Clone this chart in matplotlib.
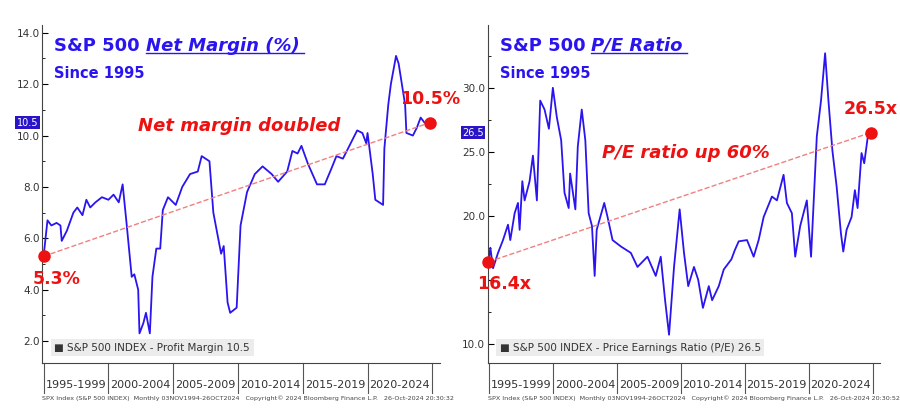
import matplotlib.pyplot as plt

BLUE = "#2a14f0"
RED = "#ee1111"

# Net margin (%)
nm_years = [1995.0, 1995.3, 1995.6, 1996.0, 1996.3, 1996.4, 1996.8, 1997.3, 1997.6, 1998.0, 1998.3, 1998.6,
            1999.0, 1999.5, 2000.0, 2000.4, 2000.8, 2001.1, 2001.4, 2001.8, 2002.0, 2002.3, 2002.4, 2002.7,
            2002.9, 2003.2, 2003.4, 2003.7, 2004.0, 2004.2, 2004.6, 2005.2, 2005.7, 2006.3, 2006.9, 2007.2,
            2007.8, 2008.1, 2008.7, 2008.9, 2009.2, 2009.4, 2009.9, 2010.2, 2010.7, 2011.3, 2011.9, 2012.6,
            2013.1, 2013.8, 2014.2, 2014.6, 2014.9, 2015.4, 2016.1, 2016.7, 2017.2, 2017.6, 2018.1, 2018.6,
            2019.2, 2019.6, 2019.9, 2020.0, 2020.4, 2020.6, 2021.2, 2021.3, 2021.6, 2021.8, 2022.2, 2022.4,
            2022.9, 2023.0, 2023.5, 2023.8, 2024.1, 2024.4, 2024.8]
nm_values = [5.3, 6.7, 6.5, 6.6, 6.5, 5.9, 6.3, 7.0, 7.2, 6.9, 7.5, 7.2,
             7.4, 7.6, 7.5, 7.7, 7.4, 8.1, 6.6, 4.5, 4.6, 4.0, 2.3, 2.7,
             3.1, 2.3, 4.5, 5.6, 5.6, 7.1, 7.6, 7.3, 8.0, 8.5, 8.6, 9.2,
             9.0, 7.0, 5.4, 5.7, 3.5, 3.1, 3.3, 6.5, 7.8, 8.5, 8.8, 8.5,
             8.2, 8.6, 9.4, 9.3, 9.6, 8.9, 8.1, 8.1, 8.7, 9.2, 9.1, 9.6,
             10.2, 10.1, 9.7, 10.1, 8.5, 7.5, 7.3, 9.5, 11.2, 12.0, 13.1, 12.8,
             11.2, 10.1, 10.0, 10.3, 10.7, 10.5, 10.5]

# P/E ratio
pe_years = [1994.95, 1995.10, 1995.31, 1995.70, 1996.09, 1996.48, 1996.66, 1997.00, 1997.26, 1997.39, 1997.60,
            1997.78, 1998.17, 1998.43, 1998.74, 1999.00, 1999.34, 1999.68, 1999.99, 2000.30, 2000.64, 2000.90,
            2001.23, 2001.34, 2001.75, 2001.94, 2002.25, 2002.53, 2002.79, 2003.05, 2003.26, 2003.42, 2004.01,
            2004.27, 2004.66, 2005.31, 2006.09, 2006.61, 2007.39, 2008.04, 2008.43, 2008.77, 2009.08, 2009.47,
            2009.91, 2010.25, 2010.58, 2011.03, 2011.36, 2011.73, 2012.19, 2012.45, 2012.97, 2013.36, 2013.96,
            2014.22, 2014.53, 2015.18, 2015.70, 2016.09, 2016.48, 2017.13, 2017.52, 2018.04, 2018.30, 2018.69,
            2018.95, 2019.34, 2019.86, 2020.19, 2020.64, 2020.97, 2021.29, 2021.55, 2021.86, 2022.19, 2022.53,
            2022.71, 2022.97, 2023.36, 2023.62, 2023.83, 2024.14, 2024.35, 2024.66, 2024.87]
pe_values = [16.4, 17.5, 15.9, 17.1, 18.1, 19.3, 18.1, 20.2, 21.0, 18.9, 22.7,
             21.2, 22.7, 24.7, 21.2, 29.0, 28.3, 26.8, 30.0, 27.7, 25.9, 21.8,
             20.6, 23.3, 20.5, 25.4, 28.3, 25.9, 20.2, 19.2, 15.3, 18.9, 21.0,
             19.9, 18.1, 17.6, 17.1, 16.0, 16.8, 15.3, 16.8, 13.4, 10.7, 16.0,
             20.5, 17.1, 14.5, 16.0, 15.0, 12.8, 14.5, 13.4, 14.5, 15.8, 16.6,
             17.3, 18.0, 18.1, 16.8, 18.1, 19.9, 21.5, 21.2, 23.2, 21.0, 20.2,
             16.8, 19.2, 21.2, 16.8, 26.2, 29.0, 32.7, 29.0, 25.1, 22.3, 18.6,
             17.2, 18.9, 19.9, 22.0, 20.6, 24.9, 24.1, 26.4, 26.5]

period_labels = ["1995-1999", "2000-2004", "2005-2009", "2010-2014", "2015-2019", "2020-2024"]
period_edges = [1995, 2000, 2005, 2010, 2015, 2020, 2025]


def panel(fig, rect, years, values, ylim, yticks, ylabels, minor, title_a, title_b,
          note, note_xy, start_lbl, end_lbl, legend, footer, tagval):
    ax = fig.add_axes(rect)
    ax.plot(years, values, color=BLUE, lw=1.3)
    ax.plot([years[0], years[-1]], [values[0], values[-1]], color="#f08080", lw=1, ls="--")
    ax.plot([years[0], years[-1]], [values[0], values[-1]], "o", color=RED, ms=8, clip_on=False, zorder=5)
    ax.set_xlim(1994.9, 2025.6)
    ax.set_ylim(*ylim)
    ax.set_yticks(yticks)
    ax.set_yticklabels(ylabels, fontsize=7.5, color="#333333")
    ax.set_yticks(minor, minor=True)
    ax.tick_params(axis="y", direction="in", length=4, pad=2)
    ax.tick_params(axis="y", which="minor", direction="in", length=2)
    ax.set_xticks([])
    for s in ["top", "right"]:
        ax.spines[s].set_visible(False)
    ax.spines["left"].set_color("#444444")
    ax.spines["bottom"].set_color("#444444")
    # period ticks below the axis
    for e in period_edges:
        ax.plot([e, e], [0, -0.09], transform=ax.get_xaxis_transform(), color="#555555", lw=0.8, clip_on=False)
    for lbl, a, b in zip(period_labels, period_edges[:-1], period_edges[1:]):
        ax.text((a + b) / 2, -0.065, lbl, transform=ax.get_xaxis_transform(), ha="center", va="center",
                fontsize=8, color="#333333")
    ax.text(0.0, -0.105, footer, transform=ax.transAxes, fontsize=4.6, color="#444444", va="center", ha="left")
    # value tag on y axis
    ax.annotate(tagval, xy=(0, values[-1]), xycoords=("axes fraction", "data"), xytext=(-3, 0),
                textcoords="offset points", ha="right", va="center", fontsize=7, color="white",
                bbox=dict(boxstyle="square,pad=0.15", fc="#2a14c8", ec="none"), annotation_clip=False)
    # legend
    ax.text(0.03, 0.045, "\u25A0 " + legend, transform=ax.transAxes, fontsize=7.5, color="#333333",
            va="center", bbox=dict(boxstyle="square,pad=0.35", fc="#ececec", ec="none"))
    # title
    t1 = ax.text(0.03, 0.965, title_a, transform=ax.transAxes, fontsize=13, fontweight="bold", color=BLUE,
                 va="top")
    fig.canvas.draw()
    r = fig.canvas.get_renderer()
    bb = t1.get_window_extent(r).transformed(ax.transAxes.inverted())
    t2 = ax.text(bb.x1, 0.965, title_b, transform=ax.transAxes, fontsize=13, fontweight="bold",
                 style="italic", color=BLUE, va="top")
    fig.canvas.draw()
    bb2 = t2.get_window_extent(r).transformed(ax.transAxes.inverted())
    ax.plot([bb2.x0, bb2.x1 + 0.01], [bb2.y0 + 0.005, bb2.y0 + 0.005], transform=ax.transAxes, color=BLUE,
            lw=1, clip_on=False)
    ax.text(0.03, 0.88, "Since 1995", transform=ax.transAxes, fontsize=10.5, fontweight="bold", color=BLUE,
            va="top")
    ax.text(note_xy[0], note_xy[1], note, transform=ax.transAxes, fontsize=13, fontweight="bold",
            style="italic", color=RED, va="center")
    ax.annotate(start_lbl, xy=(years[0], values[0]), xytext=(-8, -16), textcoords="offset points",
                fontsize=12.5, fontweight="bold", color=RED, ha="left", va="center", annotation_clip=False)
    ax.annotate(end_lbl, xy=(years[-1], values[-1]), xytext=(0, 17), textcoords="offset points",
                fontsize=12.5, fontweight="bold", color=RED, ha="center", va="center", annotation_clip=False)
    return ax


fig = plt.figure(figsize=(9, 4.11), dpi=100)
panel(fig, [0.047, 0.117, 0.442, 0.822], nm_years, nm_values, (1.15, 14.3),
      [2, 4, 6, 8, 10, 12, 14], ["2.0", "4.0", "6.0", "8.0", "10.0", "12.0", "14.0"],
      [3, 5, 7, 9, 11, 13],
      "S&P 500 ", "Net Margin (%)", "Net margin doubled", (0.24, 0.70),
      "5.3%", "10.5%", "S&P 500 INDEX - Profit Margin 10.5",
      "SPX Index (S&P 500 INDEX)  Monthly 03NOV1994-26OCT2024   Copyright\u00a9 2024 Bloomberg Finance L.P.   26-Oct-2024 20:30:32",
      "10.5")
panel(fig, [0.542, 0.117, 0.436, 0.822], pe_years, pe_values, (8.5, 34.9),
      [10, 15, 20, 25, 30], ["10.0", "", "20.0", "25.0", "30.0"],
      [12.5, 17.5, 22.5, 27.5, 32.5],
      "S&P 500 ", "P/E Ratio", "P/E ratio up 60%", (0.29, 0.62),
      "16.4x", "26.5x", "S&P 500 INDEX - Price Earnings Ratio (P/E) 26.5",
      "SPX Index (S&P 500 INDEX)  Monthly 03NOV1994-26OCT2024   Copyright\u00a9 2024 Bloomberg Finance L.P.   26-Oct-2024 20:30:52",
      "26.5")
fig.savefig("out.png", dpi=100)
